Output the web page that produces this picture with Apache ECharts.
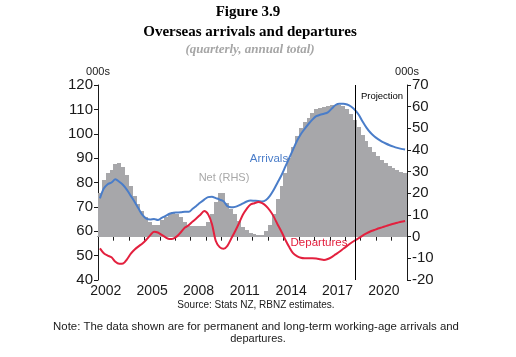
<!DOCTYPE html>
<html><head><meta charset="utf-8">
<script src="https://cdn.jsdelivr.net/npm/echarts@6/dist/echarts.min.js"></script>
<style>html,body{margin:0;padding:0;background:#fff}#c{width:516px;height:357px}</style>
</head><body><div id="c"></div>
<script>
// Quarterly categories 2002Q1 - 2021Q4
const years = [2002,2003,2004,2005,2006,2007,2008,2009,2010,2011,2012,2013,2014,2015,2016,2017,2018,2019,2020,2021];
const quarterNames = ['Q1','Q2','Q3','Q4'];
const categories = [];
years.forEach(y => quarterNames.forEach(q => categories.push(y + q)));

// Arrivals (000s, LHS)
const arrivals = [
  73.5, 77.5, 79.3, 80, 81.3, 80.3, 79, 77, 74.5, 72,
  69.3, 66.7, 65.2, 64.8, 65, 64.6, 65.5, 66.3, 67.2, 67.6,
  67.7, 67.8, 68, 68, 69.2, 70.5, 71.8, 73, 74, 74.2,
  73.6, 73, 72.3, 70.3, 69.8, 70, 70.6, 71.4, 72.2, 72.6,
  72.5, 72.4, 72.2, 72.8, 74.5, 77, 80, 83, 86.5, 90,
  93.5, 97, 99.8, 102, 104, 105.8, 107.2, 107.8, 108.2, 108.8,
  110.3, 111.8, 112.3, 112.3, 112, 111.2, 109.8, 107.8, 105, 102.5,
  100.5, 99, 97.8, 96.8, 96, 95.3, 94.7, 94.2, 93.8, 93.5
];
// Departures (000s, LHS)
const departures = [
  53, 51, 50, 49.3, 47.5, 46.7, 46.8, 48.5, 50.8, 52.5,
  53.8, 55, 56.5, 58.3, 59.8, 59.5, 58.5, 57.5, 56.8, 57,
  58, 59.7, 61.5, 62.5, 64, 65.3, 66.8, 68.3, 67, 63,
  56, 53.5, 52.8, 54, 57, 60, 63.3, 66.8, 69.2, 71,
  71.5, 72, 71.5, 70.4, 68.5, 66, 62.8, 59.8, 56.5, 53.5,
  51, 49.8, 49.1, 48.9, 48.9, 48.9, 48.8, 48.5, 48.2, 48.6,
  49.4, 50.5, 51.6, 52.8, 54, 55.2, 56.2, 57.2, 58.2, 59.1,
  59.9, 60.5, 61.1, 61.6, 62.1, 62.6, 63.1, 63.5, 63.9, 64.2
];
// Net (000s, RHS)
const net = [
  20, 26, 29.5, 31, 33.5, 34, 32.3, 28.3, 23.5, 19,
  15, 12, 9, 7, 5.5, 5.5, 7.5, 9, 10.5, 11.5,
  10.5, 9, 7, 5, 5, 5, 5, 5, 7, 10.5,
  16, 20, 20, 15.5, 13, 10.3, 7.3, 4.6, 3, 1.6,
  1.2, 1, 1, 2.4, 5.5, 10.5, 17.3, 23.2, 29.5, 36.3,
  41.5, 46.5, 50.3, 52.8, 55, 57.3, 58.7, 59.4, 60, 60.3,
  60.6, 60.9, 61, 60.3, 58.8, 56.5, 53.8, 50.7, 47, 44,
  41.2, 39, 37.2, 35.5, 34, 32.8, 31.7, 30.8, 30, 29.4
];
const projectionStart = '2018Q3';

const chart = echarts.init(document.getElementById('c'), null, {renderer: 'canvas'});
const sans = '"Liberation Sans", Arial, sans-serif';
const serif = '"Liberation Serif", "Times New Roman", serif';
const axisCol = '#1a1a1a';
const barCol = '#a7a7aa';

function renderNetBar(params, api) {
  const i = api.value(0), v = api.value(1);
  const top = api.coord([i, v]);
  const base = api.coord([i, 0]);
  const w = api.size([1, 0])[0];
  const x0 = Math.round(top[0] - w / 2);
  const x1 = Math.round(top[0] + w / 2);
  const y0 = Math.round(Math.min(top[1], base[1]));
  const y1 = Math.round(Math.max(top[1], base[1]));
  return {
    type: 'rect',
    shape: {x: x0, y: y0, width: x1 - x0, height: y1 - y0},
    style: {fill: barCol}
  };
}

chart.setOption({
  animation: false,
  backgroundColor: '#fff',
  grid: {left: 98, right: 109, top: 85, bottom: 77},
  xAxis: {
    type: 'category', data: categories, boundaryGap: true,
    axisLine: {lineStyle: {color: axisCol, width: 1}},
    axisTick: {show: true, length: 4, lineStyle: {color: axisCol},
      interval: (i) => i % 4 === 0},
    axisLabel: {
      interval: (i) => i % 12 === 1,
      formatter: (v) => v.slice(0, 4),
      color: axisCol, fontFamily: sans, fontSize: 14, margin: 4,
      padding: [0, 0, 0, 4]
    },
    splitLine: {show: false}
  },
  yAxis: [
    {type: 'value', min: 40, max: 120, interval: 10, position: 'left',
     name: '000s', nameLocation: 'end', nameGap: 5,
     nameTextStyle: {fontFamily: sans, fontSize: 11, color: axisCol, align: 'center'},
     axisLine: {show: true, lineStyle: {color: axisCol}},
     axisTick: {show: true, length: 4, lineStyle: {color: axisCol}},
     axisLabel: {color: axisCol, fontFamily: sans, fontSize: 15, margin: 5},
     splitLine: {show: false}},
    {type: 'value', min: -20, max: 70, interval: 10, position: 'right',
     name: '000s', nameLocation: 'end', nameGap: 5,
     nameTextStyle: {fontFamily: sans, fontSize: 11, color: axisCol, align: 'center'},
     axisLine: {show: true, lineStyle: {color: axisCol}},
     axisTick: {show: true, length: 4, lineStyle: {color: axisCol}},
     axisLabel: {color: axisCol, fontFamily: sans, fontSize: 15, margin: 5},
     splitLine: {show: false}}
  ],
  series: [
    {name: 'Net (RHS)', type: 'custom', yAxisIndex: 1,
     data: net.map((v, i) => [i, v]), encode: {x: 0, y: 1},
     renderItem: renderNetBar, z: 1, silent: true},
    {name: 'Arrivals', type: 'line', yAxisIndex: 0, data: arrivals,
     smooth: 0.3, showSymbol: false, lineStyle: {color: '#4a7dc9', width: 2}, z: 3,
     markLine: {silent: true, symbol: 'none', label: {show: false},
       lineStyle: {color: '#000', width: 1, type: 'solid'},
       data: [{xAxis: projectionStart}]}},
    {name: 'Departures', type: 'line', yAxisIndex: 0, data: departures,
     smooth: 0.3, showSymbol: false, lineStyle: {color: '#e3203e', width: 2}, z: 3}
  ],
  graphic: [
    {type: 'text', style: {text: 'Figure 3.9', x: 248, y: 12, textAlign: 'center', textVerticalAlign: 'middle',
      font: 'bold 15px ' + serif, fill: '#000'}},
    {type: 'text', style: {text: 'Overseas arrivals and departures', x: 250, y: 32, textAlign: 'center', textVerticalAlign: 'middle',
      font: 'bold 15px ' + serif, fill: '#000'}},
    {type: 'text', style: {text: '(quarterly, annual total)', x: 250, y: 50, textAlign: 'center', textVerticalAlign: 'middle',
      font: 'italic bold 13px ' + serif, fill: '#a6a6a6'}},
    {type: 'text', style: {text: 'Arrivals', x: 269, y: 159, textAlign: 'center', textVerticalAlign: 'middle',
      font: '11.5px ' + sans, fill: '#4a7dc9'}},
    {type: 'text', style: {text: 'Net (RHS)', x: 224, y: 178, textAlign: 'center', textVerticalAlign: 'middle',
      font: '11px ' + sans, fill: '#a8a8a8'}},
    {type: 'text', style: {text: 'Departures', x: 319, y: 243, textAlign: 'center', textVerticalAlign: 'middle',
      font: '11.5px ' + sans, fill: '#e3203e'}},
    {type: 'text', style: {text: 'Projection', x: 382, y: 96, textAlign: 'center', textVerticalAlign: 'middle',
      font: '9.5px ' + sans, fill: '#000'}},
    {type: 'text', style: {text: 'Source: Stats NZ, RBNZ estimates.', x: 256, y: 305, textAlign: 'center', textVerticalAlign: 'middle',
      font: '10px ' + sans, fill: '#1a1a1a'}},
    {type: 'text', style: {text: 'Note: The data shown are for permanent and long-term working-age arrivals and', x: 256, y: 327, textAlign: 'center', textVerticalAlign: 'middle',
      font: '11.4px ' + sans, fill: '#1a1a1a'}},
    {type: 'text', style: {text: 'departures.', x: 258, y: 339, textAlign: 'center', textVerticalAlign: 'middle',
      font: '11px ' + sans, fill: '#1a1a1a'}}
  ]
});
</script>
</body></html>
